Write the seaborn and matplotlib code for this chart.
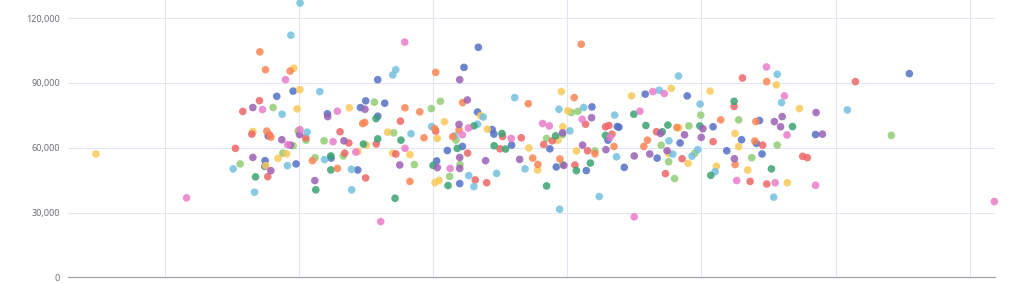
import matplotlib
matplotlib.use("Agg")
import matplotlib.pyplot as plt
import seaborn as sns
import pandas as pd
from matplotlib.ticker import FuncFormatter

# ---- data (x in arbitrary axis units, y in value units) ----
blue_x = [95.6, 83.4, 121.2, 77.0, 74.7, 74.5, 97.8, 123.9, 158.7, 149.7, 163.9, 145.8, 158.7, 210.6, 202.6, 143.8,
          233.7, 223.0, 233.1, 221.8, 219.8, 244.0, 245.3, 258.5, 291.8, 287.0, 318.4, 314.2, 337.3, 338.5, 330.3,
          342.5, 358.1, 367.0, 389.4, 408.7, 384.1, 418.9, 429.9, 441.0, 443.3, 445.2, 485.1, 555.0]
blue_y = [86200, 83800, 75700, 65500, 54000, 51400, 52500, 55200, 91500, 81700, 80600, 78600, 74600, 58700, 53900, 49700,
          106500, 97200, 76500, 60600, 43400, 68400, 66300, 61200, 51100, 59500, 78900, 49400, 69800, 69500, 63500,
          50900, 84800, 55200, 84000, 69700, 62200, 58600, 63700, 62000, 72600, 57100, 66100, 94300]

green_x = [80.7, 95.6, 99.3, 105.3, 118.7, 56.1, 87.9, 112.0, 156.2, 198.7, 205.4, 170.6, 133.0, 186.0, 217.1, 220.0,
           212.3, 284.6, 303.0, 307.9, 296.5, 320.6, 296.5, 370.0, 375.6, 399.5, 427.8, 390.6, 395.0, 380.0, 437.5,
           456.5, 541.6]
green_y = [78600, 60900, 67800, 63500, 63200, 52500, 57500, 55400, 81100, 78100, 81500, 66900, 56200, 52200, 63500, 52200,
           46700, 64300, 76300, 76800, 66000, 58500, 52200, 61200, 53500, 75100, 72900, 70100, 57400, 45700, 55400,
           61200, 65700]

yellow_x = [-51.4, 96.1, 100.6, 98.6, 65.6, 75.2, 84.4, 90.7, 137.6, 208.4, 203.1, 166.1, 150.2, 144.0, 169.9, 182.7,
            201.4, 204.4, 235.4, 240.4, 271.4, 277.9, 293.0, 295.6, 300.4, 296.7, 306.8, 347.9, 377.5, 375.6, 406.5,
            383.2, 390.1, 425.0, 427.8, 411.2, 434.5, 455.9, 473.1, 464.1]
yellow_y = [57100, 96800, 86900, 78000, 67500, 51700, 55100, 57200, 78500, 72000, 64300, 67200, 61200, 58300, 57500, 56800,
            43800, 44900, 74800, 68600, 59900, 49700, 63500, 86000, 77100, 69700, 58500, 84000, 87500, 57400, 86200,
            69200, 52800, 66600, 60500, 51400, 49700, 89100, 78100, 43800]

red_x = [70.5, 58.1, 64.8, 78.0, 105.0, 130.6, 52.6, 76.7, 175.6, 201.9, 157.6, 137.1, 134.1, 172.2, 149.7, 225.7,
         231.4, 239.9, 251.8, 265.7, 249.8, 282.4, 288.8, 313.6, 315.1, 305.7, 328.5, 331.0, 333.3, 366.5, 373.2,
         424.4, 430.6, 385.6, 408.7, 445.7, 436.3, 448.7, 514.8, 475.5, 479.0]
red_y = [81800, 76800, 66300, 65900, 64600, 67400, 59700, 46600, 72300, 67700, 61700, 62200, 57500, 57100, 46000, 57500,
         45100, 43800, 65200, 64600, 59500, 61500, 63200, 70900, 58600, 52000, 69700, 70300, 66300, 67400, 48000,
         79100, 92300, 54900, 62800, 61200, 44400, 43200, 90600, 56000, 55400]

lightblue_x = [100.8, 93.9, 115.5, 87.4, 106.0, 50.9, 66.8, 91.4, 119.0, 172.1, 169.9, 198.9, 183.5, 139.1, 139.3,
               260.8, 293.8, 237.4, 233.1, 216.1, 226.5, 230.4, 247.3, 268.5, 294.3, 312.2, 301.9, 323.8, 335.3,
               336.7, 368.5, 375.8, 382.9, 399.0, 378.7, 393.0, 397.3, 456.5, 410.2, 453.9, 459.7, 508.8]
lightblue_y = [127000, 112100, 86000, 75500, 67200, 50200, 39400, 51700, 54500, 96100, 93700, 69800, 66500, 50000, 40500,
               83200, 77800, 74200, 70900, 65500, 47100, 42000, 48100, 50200, 31500, 78600, 67800, 37400, 75100,
               55800, 86600, 63200, 93200, 80200, 57000, 56100, 59100, 94000, 48900, 37100, 80900, 77500]

darkgreen_x = [67.6, 123.7, 123.7, 112.5, 157.4, 158.7, 176.0, 148.0, 199.9, 211.1, 171.6, 230.4, 218.0, 251.3, 245.5,
               254.0, 284.6, 291.3, 306.8, 317.2, 328.5, 349.6, 358.6, 370.8, 375.0, 424.4, 398.8, 407.0, 452.2, 467.9]
darkgreen_y = [46500, 56200, 49700, 40500, 73500, 64100, 63500, 61700, 51800, 42500, 36600, 70100, 59700, 66600, 60900,
               59400, 42300, 65500, 49400, 52900, 65700, 75500, 70300, 67400, 70500, 81500, 70100, 47200, 50200, 69800]

orange_x = [70.8, 75.0, 93.4, 76.0, 79.0, 110.0, 128.6, 201.9, 179.0, 190.0, 147.5, 149.0, 201.2, 193.2, 182.7, 222.0,
            270.9, 219.3, 214.6, 274.2, 278.1, 294.5, 310.4, 305.2, 320.6, 334.8, 359.8, 357.1, 414.4, 448.7, 381.7,
            439.8, 440.6, 425.1]
orange_y = [104400, 96100, 95500, 67700, 64900, 54000, 50400, 94900, 78500, 76600, 71200, 71700, 68800, 64600, 44400, 80900,
            80400, 68200, 65100, 55200, 52300, 54800, 107900, 83200, 57200, 60600, 63500, 60600, 72900, 90600, 69400,
            63100, 72100, 52200]

purple_x = [65.6, 121.4, 87.2, 93.4, 100.4, 65.6, 79.0, 111.8, 149.2, 133.5, 175.1, 203.1, 219.8, 225.5, 219.3, 219.8,
            219.8, 239.1, 264.5, 318.1, 296.5, 311.4, 297.4, 328.8, 369.5, 349.9, 361.5, 374.4, 401.1, 399.9, 387.4,
            454.4, 424.6, 485.5, 460.2, 459.0, 490.2]
purple_y = [78600, 74400, 63700, 61200, 66100, 55500, 49400, 44800, 77800, 63200, 52000, 50800, 91500, 82100, 70800, 55500,
            50400, 54000, 54600, 73900, 66900, 61200, 51800, 59100, 66600, 56200, 57100, 58600, 68800, 64800, 66000,
            72100, 54900, 76300, 74400, 69700, 66300]

pink_x = [16.2, 89.9, 72.8, 128.6, 91.6, 100.8, 125.4, 178.8, 179.0, 142.3, 160.9, 226.3, 221.8, 212.7, 258.2, 281.6,
          286.6, 311.1, 331.8, 363.8, 372.3, 354.1, 349.9, 448.5, 426.3, 455.0, 461.9, 463.8, 485.1, 618.4]
pink_y = [36800, 91500, 77700, 76900, 61400, 68400, 62800, 108900, 59700, 58000, 25800, 69100, 66000, 50400, 64300, 71200,
          70100, 73200, 64800, 86000, 85100, 76900, 28000, 97400, 44800, 43800, 84000, 65900, 42600, 35100]

y_ticks = [0, 30000, 60000, 90000, 120000]
x_ticks = [0, 100, 200, 300, 400, 500, 600]

groups = {
    "blue": (blue_x, blue_y, "#5470c6"),
    "green": (green_x, green_y, "#91cc75"),
    "yellow": (yellow_x, yellow_y, "#fac858"),
    "red": (red_x, red_y, "#ee6666"),
    "lightblue": (lightblue_x, lightblue_y, "#73c0de"),
    "darkgreen": (darkgreen_x, darkgreen_y, "#3ba272"),
    "orange": (orange_x, orange_y, "#fc8452"),
    "purple": (purple_x, purple_y, "#9a60b4"),
    "pink": (pink_x, pink_y, "#ea7ccc"),
}

rows = []
for name, (xs, ys, _) in groups.items():
    for xv, yv in zip(xs, ys):
        rows.append({"x": xv, "y": yv, "group": name})
df = pd.DataFrame(rows)
palette = {k: v[2] for k, v in groups.items()}

sns.set_theme(style="white")
plt.rcParams["font.family"] = ["Noto Sans", "DejaVu Sans"]

fig = plt.figure(figsize=(10.24, 2.83), dpi=100)
ax = fig.add_axes([68.3 / 1024, 5.7 / 283, (994.5 - 68.3) / 1024, 277.3 / 283])

sns.scatterplot(data=df, x="x", y="y", hue="group", palette=palette, s=30,
                alpha=0.85, linewidth=0, legend=False, ax=ax, zorder=3, clip_on=False)

ax.set_xlim(-72, 618.5)
ax.set_ylim(0, 128400)
ax.set_yticks(y_ticks)
ax.set_xticks(x_ticks)
ax.yaxis.set_major_formatter(FuncFormatter(lambda v, p: f"{int(v):,}"))
ax.set_xticklabels([])
ax.set_xlabel("")
ax.set_ylabel("")

ax.grid(True, color="#e0e6f1", linewidth=0.75, zorder=0)
ax.set_axisbelow(True)
for side in ["top", "right", "left"]:
    ax.spines[side].set_visible(False)
ax.spines["bottom"].set_color("#a3a5ab")
ax.spines["bottom"].set_linewidth(0.9)

ax.tick_params(axis="y", length=0, pad=6, labelsize=6.5, labelcolor="#6e7079")
ax.tick_params(axis="x", length=4, width=0.8, color="#a3a5ab", direction="out")
ax.set_facecolor("white")
fig.patch.set_facecolor("white")

fig.savefig("out.png", dpi=100, facecolor="white")
